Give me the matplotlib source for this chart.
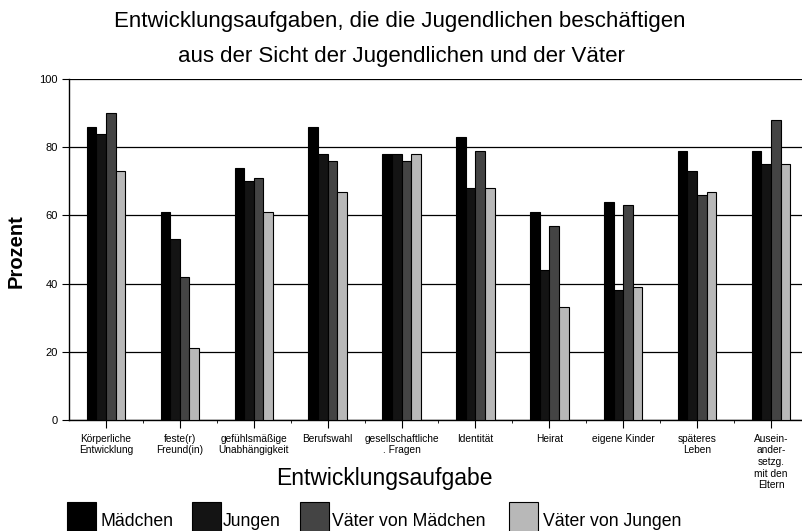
import matplotlib.pyplot as plt
from matplotlib.patches import Rectangle
import numpy as np

plt.rcParams['font.family'] = ['Liberation Sans', 'DejaVu Sans']

categories = ['Körperliche\nEntwicklung', 'feste(r)\nFreund(in)', 'gefühlsmäßige\nUnabhängigkeit',
              'Berufswahl', 'gesellschaftliche\n. Fragen', 'Identität', 'Heirat', 'eigene Kinder',
              'späteres\nLeben', 'Ausein-\nander-\nsetzg.\nmit den\nEltern']
maedchen = [86, 61, 74, 86, 78, 83, 61, 64, 79, 79]
jungen = [84, 53, 70, 78, 78, 68, 44, 38, 73, 75]
vaeter_maedchen = [90, 42, 71, 76, 76, 79, 57, 63, 66, 88]
vaeter_jungen = [73, 21, 61, 67, 78, 68, 33, 39, 67, 75]
series = ['Mädchen', 'Jungen', 'Väter von Mädchen', 'Väter von Jungen']
colors = ['#000000', '#141414', '#444444', '#b8b8b8']

W, H = 802, 531
fig = plt.figure(figsize=(W / 100, H / 100), dpi=100)
ax = fig.add_axes([69 / W, 1 - 420 / H, 1 - 69 / W, 341 / H])

x = np.arange(len(categories))
w = 0.13
data = [maedchen, jungen, vaeter_maedchen, vaeter_jungen]
for i, vals in enumerate(data):
    ax.bar(x + (i - 1.5) * w, vals, width=w, color=colors[i], edgecolor='black',
           linewidth=0.8, zorder=3)

ax.set_xlim(-0.5, 9.42)
ax.set_ylim(0, 100)
ax.set_yticks([0, 20, 40, 60, 80, 100])
ax.yaxis.grid(True, color='black', linewidth=0.9, zorder=0)
ax.set_xticks(x)
ax.set_xticklabels(categories, fontsize=7.3, linespacing=1.2, va='top')
ax.set_xticks(x[:-1] + 0.5, minor=True)
ax.tick_params(axis='x', which='major', length=6, width=0.8, pad=4)
ax.tick_params(axis='x', which='minor', length=2, width=0.6)
ax.tick_params(axis='y', length=5, width=0.8, labelsize=8, pad=3)
for s in ['top', 'right']:
    ax.spines[s].set_visible(False)
for s in ['left', 'bottom']:
    ax.spines[s].set_linewidth(1.0)

fig.text(16 / W, 1 - 251 / H, 'Prozent', rotation=90, ha='center', va='center',
         fontsize=14.5, fontweight='bold')

fig.text(400 / W, 1 - 27.5 / H, 'Entwicklungsaufgaben, die die Jugendlichen beschäftigen',
         ha='center', va='baseline', fontsize=16)
fig.text(401 / W, 1 - 62 / H, 'aus der Sicht der Jugendlichen und der Väter',
         ha='center', va='baseline', fontsize=16)
fig.text(384 / W, 1 - 485 / H, 'Entwicklungsaufgabe', ha='center', va='baseline', fontsize=16.5)

# legend along the bottom
box_x = [67, 192, 300, 509]
text_x = [100, 223, 332, 543]
for i, name in enumerate(series):
    fig.patches.append(Rectangle((box_x[i] / W, -0.01), 29 / W, 29 / H + 0.01,
                                 transform=fig.transFigure, facecolor=colors[i],
                                 edgecolor='black', linewidth=0.8))
    fig.text(text_x[i] / W, 1 - 526.5 / H, name, ha='left', va='baseline', fontsize=12.7)

fig.savefig('out.png', dpi=100)
